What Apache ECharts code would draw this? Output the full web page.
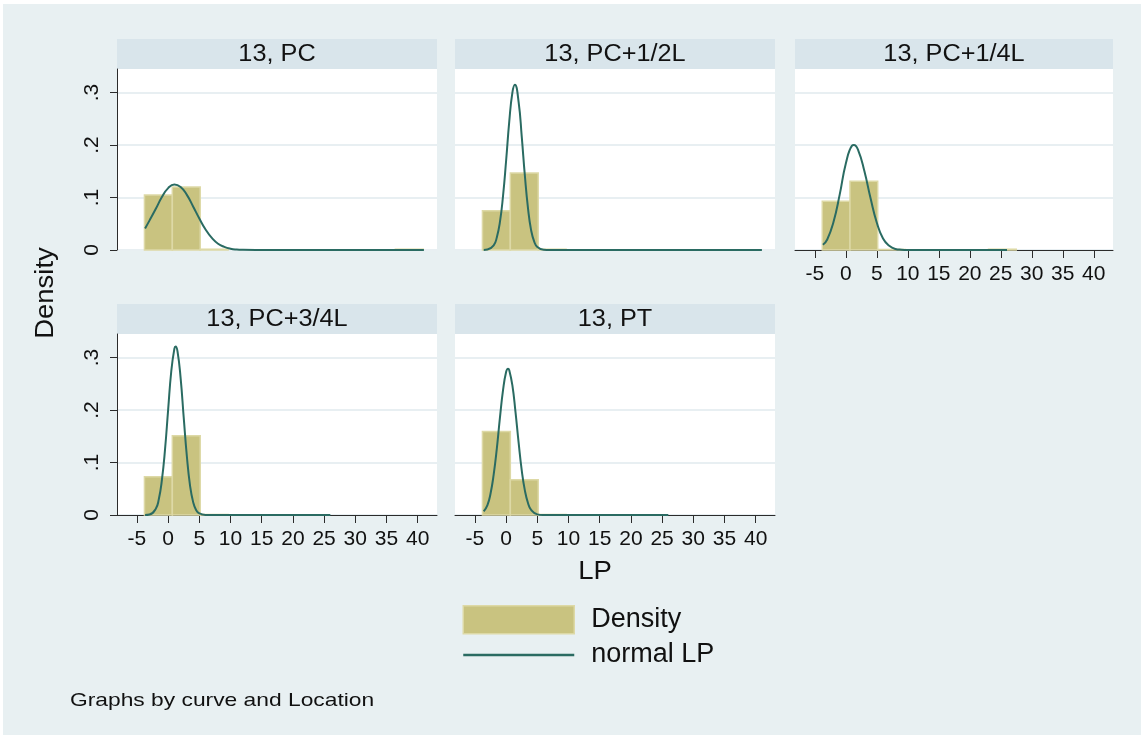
<!DOCTYPE html>
<html>
<head>
<meta charset="utf-8">
<script src="https://cdn.jsdelivr.net/npm/echarts@6/dist/echarts.min.js"></script>
<style>
  html, body { margin: 0; padding: 0; background: #ffffff; }
  #chart { width: 1144px; height: 738px; }
</style>
</head>
<body>
<div id="chart"></div>
<script>
// ---- data ----
const panelTitles = ['13, PC', '13, PC+1/2L', '13, PC+1/4L', '13, PC+3/4L', '13, PT'];

// common histogram bin edges (LP)
const binEdges = [-3.8, 0.67, 5.14, 9.61, 14.08, 18.55, 23.02, 27.49, 31.96, 36.43, 40.9];

// bar heights (density) per bin
const histPC   = [0.105, 0.120, 0.0015, 0, 0, 0, 0, 0, 0, 0.0015];
const histPC12 = [0.075, 0.147, 0.0015, 0, 0, 0, 0, 0, 0, 0];
const histPC14 = [0.093, 0.131, 0.001, 0, 0, 0, 0.0015, 0, 0, 0];
const histPC34 = [0.073, 0.151, 0.001, 0, 0, 0, 0, 0, 0, 0];
const histPT   = [0.159, 0.067, 0.001, 0, 0, 0, 0, 0, 0, 0];

// normal density overlays, [LP, density]
const normalPC = [[-3.7, 0.041], [-3, 0.056], [-2, 0.078], [-1, 0.101], [0, 0.118], [1, 0.125],
  [2, 0.120], [3, 0.105], [4, 0.083], [5, 0.060], [6, 0.039], [7, 0.023], [8, 0.012], [9, 0.006],
  [10, 0.0025], [11, 0.0009], [12, 0.0003], [14, 0], [41, 0]];
const normalPC12 = [[-3.6, 0.0001], [-3, 0.0008], [-2, 0.009], [-1.5, 0.024], [-1, 0.053],
  [-0.5, 0.103], [0, 0.171], [0.5, 0.245], [1, 0.300], [1.4, 0.315], [2, 0.282], [2.5, 0.216],
  [3, 0.142], [3.5, 0.080], [4, 0.038], [4.5, 0.016], [5, 0.0057], [6, 0.0004], [7, 0], [41, 0]];
const normalPC14 = [[-3.7, 0.010], [-3, 0.020], [-2, 0.053], [-1, 0.105], [0, 0.165], [1, 0.199],
  [1.3, 0.200], [2, 0.190], [3, 0.150], [4, 0.098], [5, 0.052], [6, 0.022], [7, 0.008], [8, 0.002],
  [9, 0.0005], [10, 0], [26, 0]];
const normalPC34 = [[-3.7, 0.0001], [-3, 0.001], [-2, 0.0115], [-1.5, 0.030], [-1, 0.067],
  [-0.5, 0.125], [0, 0.201], [0.5, 0.274], [1, 0.317], [1.2, 0.321], [1.5, 0.312], [2, 0.261],
  [2.5, 0.185], [3, 0.112], [3.5, 0.057], [4, 0.025], [4.5, 0.009], [5, 0.003], [6, 0.0002],
  [7, 0], [26, 0]];
const normalPT = [[-3.6, 0.007], [-3, 0.019], [-2.5, 0.041], [-2, 0.077], [-1.5, 0.126],
  [-1, 0.185], [-0.5, 0.238], [0, 0.273], [0.3, 0.279], [0.5, 0.276], [1, 0.247], [1.5, 0.196],
  [2, 0.138], [2.5, 0.085], [3, 0.047], [3.5, 0.023], [4, 0.0098], [5, 0.0012], [6, 0.0001],
  [7, 0], [26, 0]];

const xTicks = [-5, 0, 5, 10, 15, 20, 25, 30, 35, 40];
const yTicks = [0, 0.1, 0.2, 0.3];

const histograms = [histPC, histPC12, histPC14, histPC34, histPT];
const normals = [normalPC, normalPC12, normalPC14, normalPC34, normalPT];

// ---- layout & style ----
const FONT = '"Liberation Sans", Arial, sans-serif';
const BG = '#e8f0f2';
const STRIP = '#d9e5eb';
const BAR_FILL = '#c9c380';
const BAR_EDGE = '#ddd9a6';
const LINE = '#2a6b62';
const INK = '#111111';

const panelBoxes = [
  { left: 117, top: 69, width: 320, height: 181, col: 0, xAxis: false },
  { left: 455, top: 69, width: 320, height: 181, col: 1, xAxis: false },
  { left: 795, top: 69, width: 318, height: 181, col: 2, xAxis: true },
  { left: 117, top: 334, width: 320, height: 181, col: 0, xAxis: true },
  { left: 455, top: 334, width: 320, height: 181, col: 1, xAxis: true }
];
const STRIP_H = 30;

const grids = [], xAxes = [], yAxes = [], series = [], graphics = [];

graphics.push({
  type: 'rect', z: -10, silent: true,
  shape: { x: 3, y: 4, width: 1138, height: 731 },
  style: { fill: BG }
});

panelBoxes.forEach((b, i) => {
  grids.push({
    left: b.left, top: b.top, width: b.width, height: b.height,
    show: true, backgroundColor: '#ffffff', borderWidth: 0
  });

  xAxes.push({
    gridIndex: i, type: 'value', min: -8.2, max: 43.1,
    show: b.xAxis,
    axisLine: { show: true, onZero: false, lineStyle: { color: '#2b2b2b', width: 1 } },
    axisTick: { show: true, length: 8, customValues: xTicks, lineStyle: { color: '#2b2b2b', width: 1 } },
    axisLabel: { show: true, customValues: xTicks, margin: 14, fontSize: 21, color: INK, fontFamily: FONT },
    splitLine: { show: false }
  });

  const first = b.col === 0;
  yAxes.push({
    gridIndex: i, type: 'value', min: 0, max: 0.345,
    axisLine: { show: first, onZero: false, lineStyle: { color: '#2b2b2b', width: 1 } },
    axisTick: {
      show: true, length: 7, customValues: yTicks,
      lineStyle: { color: first ? '#2b2b2b' : 'rgba(0,0,0,0)', width: 1 }
    },
    axisLabel: {
      show: first, customValues: yTicks, rotate: 90, margin: 14,
      fontSize: 21, color: INK, fontFamily: FONT,
      formatter: v => (v === 0 ? '0' : String(Math.round(v * 10) / 10).replace(/^0/, ''))
    },
    splitLine: { show: true, lineStyle: { color: '#e8eff2', width: 2 } }
  });

  const bins = histograms[i].map((h, k) => [binEdges[k], binEdges[k + 1], h]).filter(d => d[2] > 0);
  series.push({
    name: 'Density', type: 'custom', xAxisIndex: i, yAxisIndex: i,
    itemStyle: { color: BAR_FILL, borderColor: BAR_EDGE, borderWidth: 1.5 },
    encode: { x: [0, 1], y: 2 },
    data: bins,
    renderItem: (params, api) => {
      const p0 = api.coord([api.value(0), api.value(2)]);
      const p1 = api.coord([api.value(1), 0]);
      return {
        type: 'rect',
        shape: { x: p0[0], y: p0[1], width: p1[0] - p0[0], height: p1[1] - p0[1] },
        style: { fill: BAR_FILL, stroke: BAR_EDGE, lineWidth: 1.5 }
      };
    },
    z: 2
  });

  series.push({
    name: 'normal LP', type: 'line', xAxisIndex: i, yAxisIndex: i,
    data: normals[i], smooth: 0.5,
    symbol: 'none', showSymbol: false,
    lineStyle: { color: LINE, width: 2 }, itemStyle: { color: LINE },
    z: 3
  });

  // facet strip with the panel label
  graphics.push({
    type: 'rect', silent: true,
    shape: { x: b.left, y: b.top - STRIP_H, width: b.width, height: STRIP_H },
    style: { fill: STRIP }
  });
  graphics.push({
    type: 'text', silent: true,
    x: b.left + b.width / 2, y: b.top - STRIP_H / 2 + 1, scaleX: 1.1,
    style: { text: panelTitles[i], fill: INK, font: '23px ' + FONT, align: 'center', verticalAlign: 'middle' }
  });
});

// axis titles and note
graphics.push({
  type: 'text', silent: true, x: 46, y: 293, rotation: Math.PI / 2, scaleX: 1.1,
  style: { text: 'Density', fill: INK, font: '25px ' + FONT, align: 'center', verticalAlign: 'middle' }
});
graphics.push({
  type: 'text', silent: true, x: 595, y: 572, scaleX: 1.1,
  style: { text: 'LP', fill: INK, font: '25px ' + FONT, align: 'center', verticalAlign: 'middle' }
});
graphics.push({
  type: 'text', silent: true, x: 70, y: 701, scaleX: 1.2,
  style: { text: 'Graphs by curve and Location', fill: INK, font: '19px ' + FONT, align: 'left', verticalAlign: 'middle' }
});

const chart = echarts.init(document.getElementById('chart'), null, { renderer: 'canvas' });
chart.setOption({
  animation: false,
  backgroundColor: '#ffffff',
  grid: grids,
  xAxis: xAxes,
  yAxis: yAxes,
  series: series,
  graphic: graphics,
  legend: {
    left: 462, top: 605, orient: 'vertical',
    itemWidth: 111, itemHeight: 28, itemGap: 7, padding: 0,
    textStyle: { fontSize: 27, color: INK, fontFamily: FONT, padding: [0, 0, 0, 12] },
    data: [
      { name: 'Density', icon: 'rect', itemStyle: { color: BAR_FILL, borderColor: BAR_EDGE, borderWidth: 1.5 } },
      { name: 'normal LP', itemStyle: { opacity: 0 }, lineStyle: { color: LINE, width: 2.5 } }
    ]
  }
});
</script>
</body>
</html>
